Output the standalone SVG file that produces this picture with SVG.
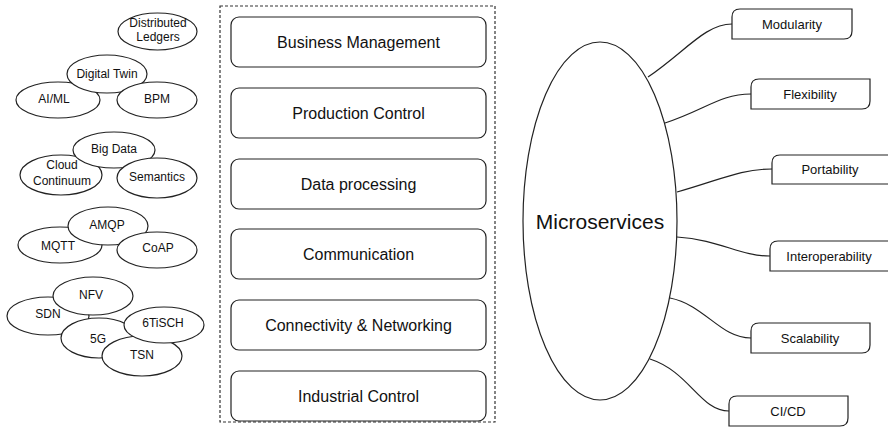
<svg xmlns="http://www.w3.org/2000/svg" width="888" height="431" viewBox="0 0 888 431">
<style>
.e{fill:#fff;stroke:#222;stroke-width:1.2}
.t{font-family:"Liberation Sans",Arial,sans-serif;font-size:12px;fill:#111;text-anchor:middle}
.r{font-family:"Liberation Sans",Arial,sans-serif;font-size:13px;fill:#111;text-anchor:middle}
.b{fill:#fff;stroke:#222;stroke-width:1.2}
.bt{font-family:"Liberation Sans",Arial,sans-serif;font-size:16px;fill:#111;text-anchor:middle}
.c{fill:none;stroke:#222;stroke-width:1.2}
</style>
<rect width="888" height="431" fill="#fff"/>
<g id="left-concepts">
<g id="distributed-ledgers"><ellipse class="e" cx="157.5" cy="31.5" rx="39.5" ry="18.5"/><text class="t" x="158" y="27">Distributed</text><text class="t" x="158" y="41">Ledgers</text></g>
<g id="aiml"><ellipse class="e" cx="58" cy="100" rx="42" ry="18"/><text class="t" x="54" y="103">AI/ML</text></g>
<g id="digital-twin"><ellipse class="e" cx="107" cy="74" rx="40" ry="19"/><text class="t" x="107" y="78">Digital Twin</text></g>
<g id="bpm"><ellipse class="e" cx="157" cy="100" rx="40" ry="18"/><text class="t" x="157" y="103">BPM</text></g>
<g id="cloud-continuum"><ellipse class="e" cx="61" cy="175" rx="41" ry="20"/><text class="t" x="62" y="169">Cloud</text><text class="t" x="62" y="185">Continuum</text></g>
<g id="big-data"><ellipse class="e" cx="114" cy="150" rx="41" ry="18"/><text class="t" x="114" y="153">Big Data</text></g>
<g id="semantics"><ellipse class="e" cx="157" cy="178" rx="40" ry="20"/><text class="t" x="157" y="181">Semantics</text></g>
<g id="mqtt"><ellipse class="e" cx="60" cy="245" rx="42" ry="18"/><text class="t" x="58" y="250">MQTT</text></g>
<g id="amqp"><ellipse class="e" cx="108" cy="226" rx="40" ry="19"/><text class="t" x="107" y="229">AMQP</text></g>
<g id="coap"><ellipse class="e" cx="157" cy="250" rx="40" ry="18"/><text class="t" x="158" y="252">CoAP</text></g>
<g id="sdn"><ellipse class="e" cx="48" cy="316" rx="41" ry="19"/><text class="t" x="48" y="318">SDN</text></g>
<g id="nfv"><ellipse class="e" cx="93" cy="296" rx="40" ry="19"/><text class="t" x="91" y="299">NFV</text></g>
<g id="5g"><ellipse class="e" cx="99" cy="338" rx="38" ry="20"/><text class="t" x="98" y="343">5G</text></g>
<g id="tsn"><ellipse class="e" cx="142" cy="356" rx="40" ry="20"/><text class="t" x="142" y="359">TSN</text></g>
<g id="6tisch"><ellipse class="e" cx="164" cy="325" rx="40" ry="18"/><text class="t" x="163" y="327">6TiSCH</text></g>
</g>
<g id="layers">
<rect x="220" y="6" width="275" height="416" fill="none" stroke="#333" stroke-width="1.2" stroke-dasharray="3,2"/>
<g id="business-management"><rect class="b" x="231" y="17" width="255" height="50" rx="8"/><text class="bt" x="358.5" y="48">Business Management</text></g>
<g id="production-control"><rect class="b" x="231" y="88" width="255" height="50" rx="8"/><text class="bt" x="358.5" y="119">Production Control</text></g>
<g id="data-processing"><rect class="b" x="231" y="159" width="255" height="50" rx="8"/><text class="bt" x="358.5" y="190">Data processing</text></g>
<g id="communication"><rect class="b" x="231" y="229" width="255" height="50" rx="8"/><text class="bt" x="358.5" y="260">Communication</text></g>
<g id="connectivity"><rect class="b" x="231" y="300" width="255" height="50" rx="8"/><text class="bt" x="358.5" y="331">Connectivity &amp; Networking</text></g>
<g id="industrial-control"><rect class="b" x="231" y="371" width="255" height="50" rx="8"/><text class="bt" x="358.5" y="402">Industrial Control</text></g>
</g>
<g id="connectors">
<path class="c" d="M648,77 C685,52 705,24 732,24"/>
<path class="c" d="M665,123 C705,110 720,94 751,94"/>
<path class="c" d="M677,192 C720,180 740,169 772,169"/>
<path class="c" d="M677,237 C720,240 740,256 770,256"/>
<path class="c" d="M670,298 C705,305 720,338 751,338"/>
<path class="c" d="M650,359 C690,372 700,411 729,411"/>
</g>
<g id="microservices"><ellipse class="e" cx="600" cy="221" rx="77" ry="179"/><text x="600" y="229" font-family="'Liberation Sans',Arial,sans-serif" font-size="21" fill="#111" text-anchor="middle">Microservices</text></g>
<g id="modularity"><path class="b" d="M740,9 H852 V31 Q852,39 844,39 H732 V17 Q732,9 740,9 Z"/><text class="r" x="792" y="29">Modularity</text></g>
<g id="flexibility"><path class="b" d="M759,79 H870 V101 Q870,109 862,109 H751 V87 Q751,79 759,79 Z"/><text class="r" x="810" y="99">Flexibility</text></g>
<g id="portability"><path class="b" d="M780,155 H895 V176 Q895,184 887,184 H772 V163 Q772,155 780,155 Z"/><text class="r" x="830" y="174">Portability</text></g>
<g id="interoperability"><path class="b" d="M778,241 H895 V263 Q895,271 887,271 H770 V249 Q770,241 778,241 Z"/><text class="r" x="829" y="261">Interoperability</text></g>
<g id="scalability"><path class="b" d="M759,323 H870 V345 Q870,353 862,353 H751 V331 Q751,323 759,323 Z"/><text class="r" x="810" y="343">Scalability</text></g>
<g id="cicd"><path class="b" d="M737,396 H848 V418 Q848,426 840,426 H729 V404 Q729,396 737,396 Z"/><text class="r" x="788" y="416">CI/CD</text></g>
</svg>
